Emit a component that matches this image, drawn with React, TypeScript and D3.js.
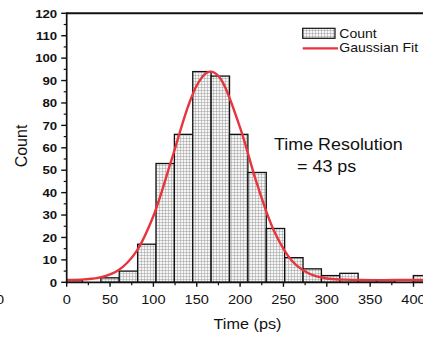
import React from "react";
import * as d3 from "d3";

// ---- data ----
const binEdges = [-3, 18.2, 39.4, 60.6, 81.8, 103, 124.2, 145.4, 166.6, 187.8, 209, 230.2, 251.4, 272.6, 293.8, 315, 336.2, 357.4, 378.6, 399.8, 421];
const counts = [1, 0, 2, 5, 17, 53, 66, 94, 92, 66, 49, 24, 11, 6, 3, 4, 1, 1, 0, 3];
const fitX = [0, 20, 40, 60, 80, 100, 120, 140, 150, 160, 166, 172, 180, 200, 220, 240, 260, 280, 300, 320, 340, 380, 440];
const fitY = [1.05, 1.3, 2.3, 5.5, 13.6, 29.6, 53.5, 78.5, 87.8, 93.1, 94, 93.1, 89.2, 69.0, 43.3, 22.2, 9.5, 3.8, 1.7, 1.2, 1.0, 1.0, 1.0];
const xMajorTicks = [0, 50, 100, 150, 200, 250, 300, 350, 400];
const xMinorTicks = [25, 75, 125, 175, 225, 275, 325, 375, 425];
const yMajorTicks = [0, 10, 20, 30, 40, 50, 60, 70, 80, 90, 100, 110, 120];
const yMinorTicks = [5, 15, 25, 35, 45, 55, 65, 75, 85, 95, 105, 115];
const xTitle = "Time (ps)";
const yTitle = "Count";
const legendLabels = ["Count", "Gaussian Fit"];
const annotation = ["Time Resolution", "= 43 ps"];

const W = 423;
const H = 337;
const left = 66.7;
const top = 13.3;
const bottom = 282.3;
const right = 439.5;
const RED = "#e8343c";
const FONT = "'Liberation Sans', Arial, Helvetica, sans-serif";
const SX = 1.12;

const x = d3.scaleLinear().domain([0, 430]).range([left, right]);
const y = d3.scaleLinear().domain([0, 120]).range([bottom, top]);

function T(props: { x: number; y: number; size: number; anchor?: string; bold?: boolean; sx?: number; rotate?: number; children: any }) {
  const { x: tx, y: ty, size, anchor = "start", bold = false, sx = SX, rotate = 0 } = props;
  return (
    <text
      transform={`translate(${tx},${ty}) scale(${sx},1)${rotate ? ` rotate(${rotate})` : ""}`}
      textAnchor={anchor as any}
      fontFamily={FONT}
      fontSize={size}
      fontWeight={bold ? "bold" : "normal"}
      fill="#111"
    >
      {props.children}
    </text>
  );
}

export default function App() {
  const line = d3
    .line<number>()
    .x((_, i) => x(fitX[i]))
    .y((d) => y(d))
    .curve(d3.curveCatmullRom);
  const fitPath = line(fitY) || "";

  return (
    <svg width={W} height={H} style={{ position: "absolute", left: 0, top: 0, background: "#fff" }}>
      <defs>
        <pattern id="grid" width={3} height={3} patternUnits="userSpaceOnUse">
          <rect width={3} height={3} fill="#f6f6f6" />
          <path d="M0,0.3H3M0.3,0V3" stroke="#909090" strokeWidth={0.55} />
        </pattern>
        <clipPath id="plot">
          <rect x={left} y={top - 5} width={right - left} height={bottom - top + 5} />
        </clipPath>
      </defs>
      <rect width={W} height={H} fill="#fff" />

      {/* bars */}
      <g clipPath="url(#plot)">
        {counts.map((c, i) =>
          c > 0 ? (
            <rect
              key={i}
              x={x(binEdges[i])}
              y={y(c)}
              width={x(binEdges[i + 1]) - x(binEdges[i])}
              height={y(0) - y(c)}
              fill="url(#grid)"
              stroke="#111"
              strokeWidth={1.3}
            />
          ) : null
        )}
        <path d={fitPath} fill="none" stroke={RED} strokeWidth={2.4} />
      </g>

      {/* frame */}
      <line x1={left} x2={W + 5} y1={top} y2={top} stroke="#111" strokeWidth={2} />
      <line x1={left} x2={left} y1={top - 1} y2={bottom + 1} stroke="#111" strokeWidth={1.7} />
      <line x1={left - 1} x2={W + 5} y1={bottom} y2={bottom} stroke="#111" strokeWidth={1.7} />

      {/* y ticks */}
      {yMajorTicks.map((t) => (
        <g key={"ym" + t}>
          <line x1={left - 5.5} x2={left} y1={y(t)} y2={y(t)} stroke="#111" strokeWidth={1.4} />
          <T x={left - 9.5} y={y(t) + 4.2} size={11.8} anchor="end" bold>
            {t}
          </T>
        </g>
      ))}
      {yMinorTicks.map((t) => (
        <line key={"yn" + t} x1={left - 3} x2={left} y1={y(t)} y2={y(t)} stroke="#111" strokeWidth={1.2} />
      ))}

      {/* x ticks */}
      {xMajorTicks.map((t) => (
        <g key={"xm" + t}>
          <line x1={x(t)} x2={x(t)} y1={bottom} y2={bottom + 4.5} stroke="#111" strokeWidth={1.4} />
          <T x={x(t)} y={304} size={13} anchor="middle">
            {t}
          </T>
        </g>
      ))}
      {xMinorTicks.map((t) => (
        <line key={"xn" + t} x1={x(t)} x2={x(t)} y1={bottom} y2={bottom + 3} stroke="#111" strokeWidth={1.2} />
      ))}

      {/* stray label from neighbouring panel */}
      <T x={0} y={304} size={13} anchor="middle">0</T>

      {/* axis titles */}
      <T x={247.5} y={328.5} size={14.5} anchor="middle">
        {xTitle}
      </T>
      <T x={26.5} y={146} size={16} anchor="middle" sx={1} rotate={-90}>
        {yTitle}
      </T>

      {/* legend */}
      <rect x={302.7} y={28.3} width={32.3} height={10} fill="url(#grid)" stroke="#111" strokeWidth={1.2} />
      <T x={339.3} y={37.5} size={13.5} sx={1.04}>
        {legendLabels[0]}
      </T>
      <line x1={302.7} x2={338} y1={48.3} y2={48.3} stroke={RED} strokeWidth={2.2} />
      <T x={339.3} y={52.3} size={13.5} sx={1.04}>
        {legendLabels[1]}
      </T>

      {/* annotation */}
      <T x={274} y={150} size={16}>
        {annotation[0]}
      </T>
      <T x={297} y={172.3} size={16}>
        {annotation[1]}
      </T>
    </svg>
  );
}
